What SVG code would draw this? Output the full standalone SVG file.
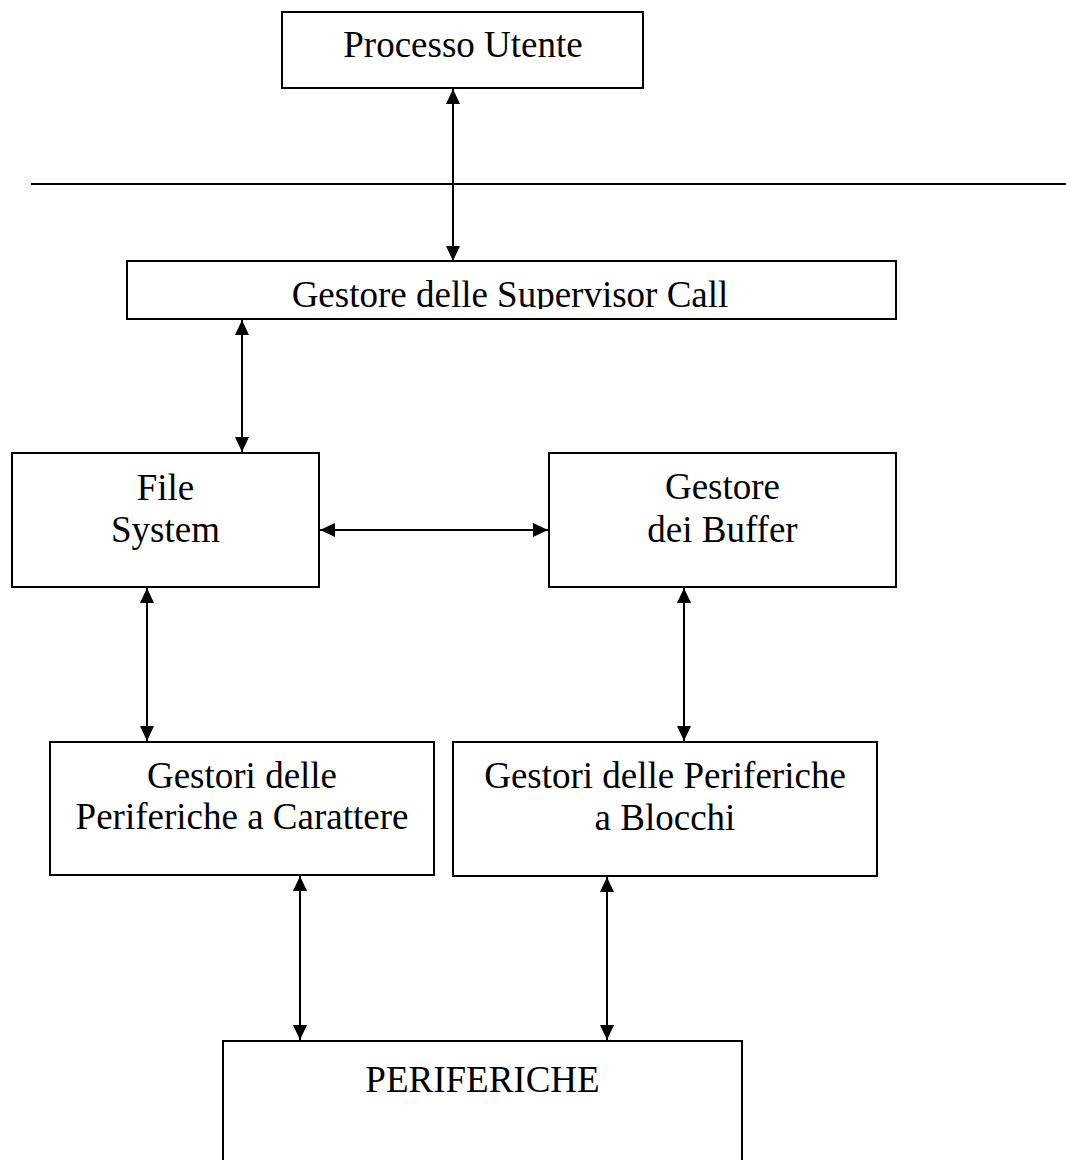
<svg xmlns="http://www.w3.org/2000/svg" width="1066" height="1160" viewBox="0 0 1066 1160">
<style>
.box{fill:#fff;stroke:#000;stroke-width:2}
.lbl{font-family:"Liberation Serif","Times New Roman",serif;font-size:37px;fill:#000;text-anchor:middle}
.conn{stroke:#000;stroke-width:2;fill:none;marker-start:url(#ah);marker-end:url(#ah)}
</style>
<defs>
<marker id="ah" markerUnits="userSpaceOnUse" viewBox="0 0 15 14" refX="15" refY="7" markerWidth="15" markerHeight="14" orient="auto-start-reverse">
<path d="M0,0 L15,7 L0,14 Z" fill="#000"/>
</marker>
<clipPath id="svcClip"><rect x="127" y="261" width="769" height="48"/></clipPath>
</defs>
<rect width="1066" height="1160" fill="#fff"/>
<line x1="31" y1="184" x2="1066" y2="184" stroke="#000" stroke-width="2"/>
<g id="connectors">
<line class="conn" x1="453" y1="89" x2="453" y2="261"/>
<line class="conn" x1="242" y1="320" x2="242" y2="452"/>
<line class="conn" x1="320" y1="530" x2="548" y2="530"/>
<line class="conn" x1="147" y1="588" x2="147" y2="741"/>
<line class="conn" x1="684" y1="588" x2="684" y2="741"/>
<line class="conn" x1="300" y1="876" x2="300" y2="1040"/>
<line class="conn" x1="607" y1="877" x2="607" y2="1040"/>
</g>
<g id="processo-utente">
<rect class="box" x="282" y="12" width="361" height="76"/>
<text class="lbl" x="463" y="57">Processo Utente</text>
</g>
<g id="gestore-svc">
<rect class="box" x="127" y="261" width="769" height="58"/>
<text class="lbl" x="510" y="307" clip-path="url(#svcClip)">Gestore delle Supervisor Call</text>
</g>
<g id="file-system">
<rect class="box" x="12" y="453" width="307" height="134"/>
<text class="lbl" x="165.5" y="500">File</text>
<text class="lbl" x="165.5" y="542">System</text>
</g>
<g id="gestore-buffer">
<rect class="box" x="549" y="453" width="347" height="134"/>
<text class="lbl" x="722.5" y="499">Gestore</text>
<text class="lbl" x="722.5" y="542">dei Buffer</text>
</g>
<g id="gestori-carattere">
<rect class="box" x="50" y="742" width="384" height="133"/>
<text class="lbl" x="242" y="788">Gestori delle</text>
<text class="lbl" x="242" y="829">Periferiche a Carattere</text>
</g>
<g id="gestori-blocchi">
<rect class="box" x="453" y="742" width="424" height="134"/>
<text class="lbl" x="665" y="788">Gestori delle Periferiche</text>
<text class="lbl" x="665" y="830">a Blocchi</text>
</g>
<g id="periferiche">
<rect class="box" x="223" y="1041" width="519" height="130"/>
<text class="lbl" x="482.5" y="1092">PERIFERICHE</text>
</g>
</svg>
